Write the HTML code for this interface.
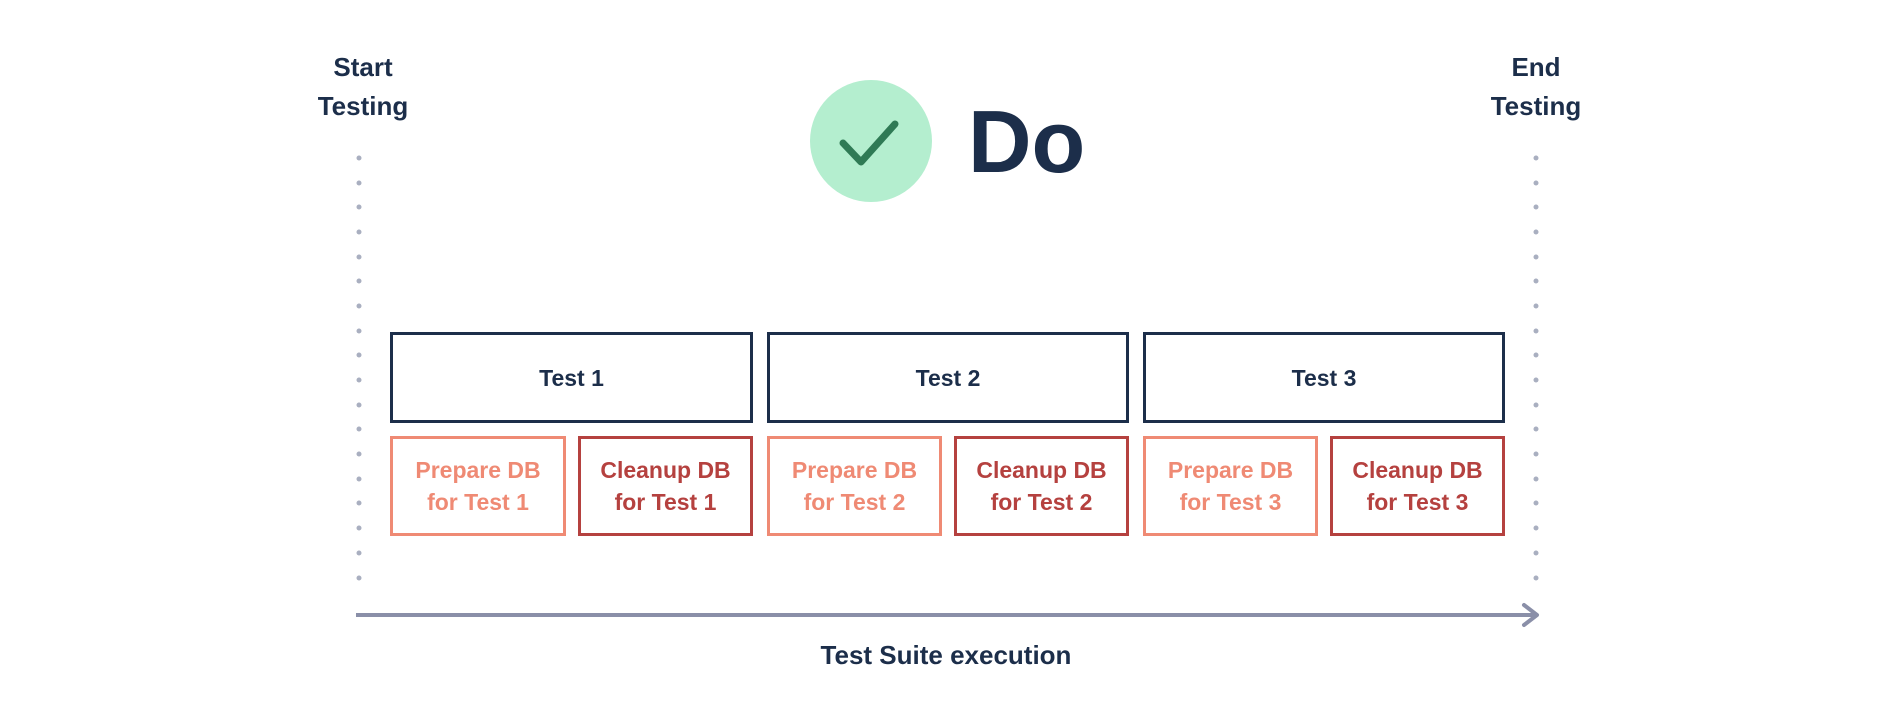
<!DOCTYPE html>
<html><head><style>
body{margin:0;background:#fff;width:1884px;height:708px;overflow:hidden;font-family:"Liberation Sans",sans-serif;}
.t{position:absolute;font-weight:bold;color:#1c2e4a;text-align:center;}
.b{position:absolute;box-sizing:border-box;display:flex;align-items:center;justify-content:center;text-align:center;font-weight:bold;font-size:23px;line-height:32px;}
.n{border:3.5px solid #1c2e4a;color:#1c2e4a;top:332px;height:91px;}
.p{border:3.5px solid #ef8a74;color:#ef8a74;top:436px;height:100px;}
.c{border:3.5px solid #b5413f;color:#b5413f;top:436px;height:100px;}
</style></head><body>
<svg width="1884" height="708" style="position:absolute;left:0;top:0">
<circle cx="871" cy="141" r="61" fill="#b4eecf"/>
<polyline points="843,143 861,162 895,124" fill="none" stroke="#2f7a55" stroke-width="7" stroke-linecap="round" stroke-linejoin="round"/>
<line x1="356" y1="615" x2="1534" y2="615" stroke="#8a8fa8" stroke-width="4"/>
<polyline points="1524,605 1537,615 1524,625" fill="none" stroke="#8a8fa8" stroke-width="4" stroke-linecap="round" stroke-linejoin="round"/>
<g fill="#a9afc0">
<circle cx="359" cy="158" r="2.5"/><circle cx="359" cy="183" r="2.5"/><circle cx="359" cy="207" r="2.5"/><circle cx="359" cy="232" r="2.5"/><circle cx="359" cy="257" r="2.5"/><circle cx="359" cy="281" r="2.5"/><circle cx="359" cy="306" r="2.5"/><circle cx="359" cy="331" r="2.5"/><circle cx="359" cy="355" r="2.5"/><circle cx="359" cy="380" r="2.5"/><circle cx="359" cy="405" r="2.5"/><circle cx="359" cy="429" r="2.5"/><circle cx="359" cy="454" r="2.5"/><circle cx="359" cy="479" r="2.5"/><circle cx="359" cy="503" r="2.5"/><circle cx="359" cy="528" r="2.5"/><circle cx="359" cy="553" r="2.5"/><circle cx="359" cy="578" r="2.5"/>
<circle cx="1536" cy="158" r="2.5"/><circle cx="1536" cy="183" r="2.5"/><circle cx="1536" cy="207" r="2.5"/><circle cx="1536" cy="232" r="2.5"/><circle cx="1536" cy="257" r="2.5"/><circle cx="1536" cy="281" r="2.5"/><circle cx="1536" cy="306" r="2.5"/><circle cx="1536" cy="331" r="2.5"/><circle cx="1536" cy="355" r="2.5"/><circle cx="1536" cy="380" r="2.5"/><circle cx="1536" cy="405" r="2.5"/><circle cx="1536" cy="429" r="2.5"/><circle cx="1536" cy="454" r="2.5"/><circle cx="1536" cy="479" r="2.5"/><circle cx="1536" cy="503" r="2.5"/><circle cx="1536" cy="528" r="2.5"/><circle cx="1536" cy="553" r="2.5"/><circle cx="1536" cy="578" r="2.5"/>
</g>
</svg>
<div class="t" style="left:283px;top:48px;width:160px;font-size:26px;line-height:39px;">Start<br>Testing</div>
<div class="t" style="left:1456px;top:48px;width:160px;font-size:26px;line-height:39px;">End<br>Testing</div>
<div class="t" style="left:968px;top:92px;font-size:88px;line-height:100px;">Do</div>
<div class="b n" style="left:390px;width:363px;">Test 1</div>
<div class="b n" style="left:767px;width:362px;">Test 2</div>
<div class="b n" style="left:1143px;width:362px;">Test 3</div>
<div class="b p" style="left:390px;width:176px;">Prepare DB<br>for Test 1</div>
<div class="b c" style="left:578px;width:175px;">Cleanup DB<br>for Test 1</div>
<div class="b p" style="left:767px;width:175px;">Prepare DB<br>for Test 2</div>
<div class="b c" style="left:954px;width:175px;">Cleanup DB<br>for Test 2</div>
<div class="b p" style="left:1143px;width:175px;">Prepare DB<br>for Test 3</div>
<div class="b c" style="left:1330px;width:175px;">Cleanup DB<br>for Test 3</div>
<div class="t" style="left:746px;top:638px;width:400px;font-size:26px;line-height:34px;">Test Suite execution</div>
</body></html>
